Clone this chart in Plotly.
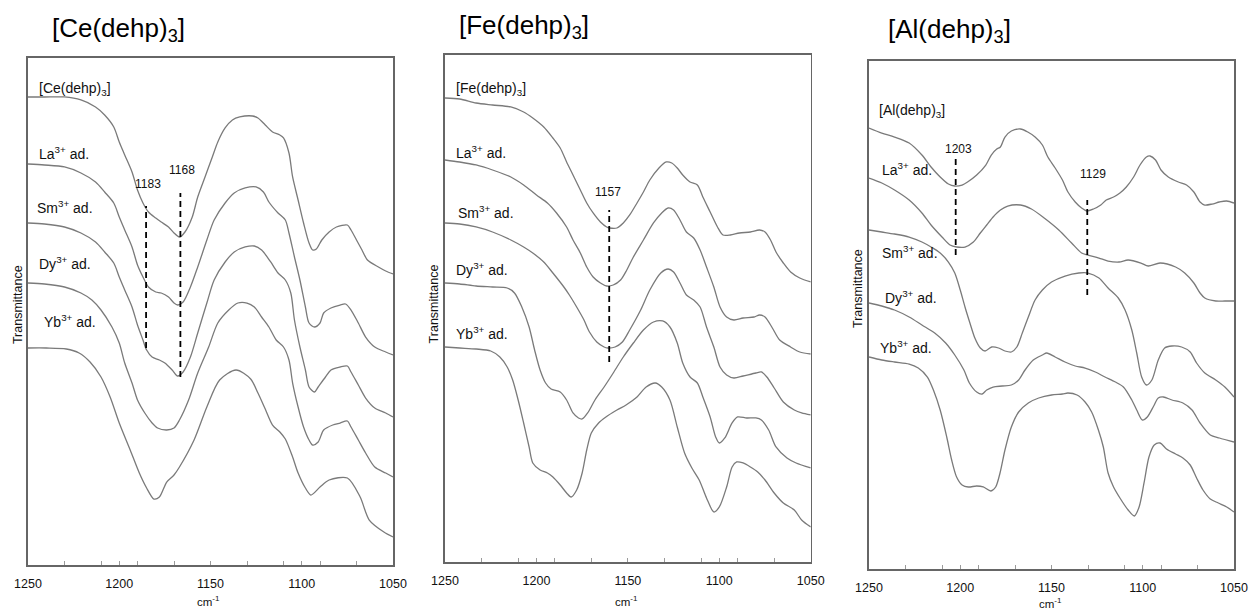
import plotly.graph_objects as go

# ---------------- data: wavenumber (cm-1) and transmittance (arbitrary, offset) ----------------
# Panel 1: [Ce(dehp)3]
ce_ref_wn = [1250,1241,1230,1221,1213,1208,1203,1200,1197,1193,1190,1187,1184,1180,1177,1173,1170,1167,1164,1160,1157,1153,1149,1146,1142,1138,1134,1127,1124,1120,1116,1112,1110,1107,1105,1102,1099,1096,1094,1092,1089,1085,1081,1075,1073,1070,1067,1064,1058,1054,1050]
ce_ref_t = [468,468,468,465,458,450,438,423,410,393,375,362,353,347,343,338,332,328,333,348,368,388,408,423,437,445,448,449,447,440,433,430,427,412,388,365,342,322,315,316,325,333,338,340,335,325,315,305,298,294,291]
ce_la_wn = [1250,1241,1230,1221,1213,1208,1203,1200,1197,1193,1190,1187,1184,1180,1177,1173,1170,1168,1165,1161,1157,1152,1148,1142,1137,1131,1125,1121,1118,1113,1109,1107,1104,1101,1098,1096,1093,1090,1088,1084,1079,1076,1073,1069,1065,1060,1054,1050]
ce_la_t = [401,400,398,392,383,373,362,348,335,318,300,288,278,273,272,268,262,260,263,278,298,325,345,362,372,377,378,373,363,352,345,332,308,285,258,242,238,242,252,257,260,261,255,242,228,218,213,210]
ce_sm_wn = [1250,1241,1230,1221,1213,1208,1203,1200,1197,1193,1190,1187,1185,1182,1178,1175,1171,1168,1165,1161,1157,1152,1148,1142,1137,1131,1126,1122,1117,1113,1109,1106,1104,1101,1098,1096,1093,1091,1087,1084,1079,1075,1073,1069,1065,1060,1054,1050]
ce_sm_t = [342,341,338,332,323,313,302,288,275,258,240,225,215,208,205,202,195,189,193,208,232,262,285,303,313,318,319,315,303,292,285,272,245,218,195,178,173,178,188,195,198,199,193,180,167,157,152,148]
ce_dy_wn = [1250,1241,1230,1221,1215,1210,1204,1200,1197,1193,1190,1186,1182,1179,1174,1170,1167,1162,1157,1151,1146,1140,1135,1130,1126,1122,1118,1114,1110,1107,1105,1102,1099,1096,1094,1091,1088,1083,1079,1075,1073,1069,1065,1060,1054,1050]
ce_dy_t = [282,281,278,272,265,255,238,222,202,182,165,152,142,137,135,137,145,165,192,218,242,255,262,262,258,248,238,225,218,205,182,158,138,125,120,123,135,140,142,144,138,125,112,98,92,88]
ce_yb_wn = [1250,1240,1229,1222,1216,1210,1205,1200,1194,1189,1185,1181,1178,1174,1170,1167,1159,1152,1145,1136,1128,1124,1120,1116,1112,1109,1105,1102,1098,1095,1090,1085,1075,1068,1063,1055,1050]
ce_yb_t = [217,217,216,212,203,188,168,142,115,92,77,66,68,83,90,98,125,158,185,195,186,172,156,140,133,126,108,92,77,70,78,85,87,68,45,33,28]

# Panel 2: [Fe(dehp)3]
fe_ref_wn = [1250,1242,1233,1224,1214,1207,1202,1196,1191,1187,1183.5,1180,1176,1172.5,1169,1165,1161.6,1160,1156,1152.5,1149,1145,1141.5,1138,1133,1129,1126,1123,1120,1116,1112,1109,1105,1101,1098,1094,1089,1083,1078,1075,1072,1069,1065,1061,1056,1050]
fe_ref_t = [464,463,459,457,455,450,444,435,424,414,400,387,372,359,349,340,335,334,334,339,347,359,370,382,394,400,399,394,387,380,377,365,350,335,327,327,329,330,332,330,322,310,299,290,284,280]
fe_la_wn = [1250,1242,1233,1224,1214,1207,1200,1194,1189,1183.5,1180,1176,1172.5,1169,1165,1161.6,1158,1154,1150.6,1147,1141.5,1136,1131.5,1128,1125,1121.5,1118,1114,1110.5,1107,1103,1099.6,1096,1092,1087,1081,1078,1075,1071,1067,1061,1056,1050]
fe_la_t = [402,400,397,392,385,377,367,359,349,335,322,309,295,285,279,276,277,282,292,305,322,339,349,354,352,342,330,324,312,295,275,255,245,242,244,245,247,245,234,222,215,210,208]
fe_sm_wn = [1250,1242,1233,1224,1214,1207,1202,1196,1191,1185,1182,1178,1174,1171,1167,1163,1161,1157,1153,1149,1143,1138,1132,1128,1125,1121.5,1118,1114,1110.5,1107,1103,1099.6,1096,1092,1087,1080,1077,1074,1070,1065,1059,1055,1050]
fe_sm_t = [339,338,335,330,322,315,309,300,289,275,267,255,242,230,220,215,214,215,220,232,252,272,289,293,290,279,267,262,255,235,215,195,187,184,186,189,190,185,174,160,152,149,147]
fe_dy_wn = [1250,1242,1233,1224,1216,1212,1208,1204,1201,1198,1195,1192,1187,1183.5,1180,1177,1175,1172,1168,1163,1158,1152.5,1147,1141.5,1136,1131,1127,1123,1120,1116,1112,1109,1105,1102,1100,1097,1093,1090,1085,1080,1077,1073,1069,1063,1058,1050]
fe_dy_t = [279,278,276,275,274,269,255,235,212,192,179,173,170,162,149,144,143,149,162,175,189,205,219,232,240,241,235,219,199,185,179,165,145,125,119,124,139,145,144,144,142,132,115,104,99,94]
fe_yb_wn = [1250,1242,1233,1225,1220,1216,1213,1210,1207,1204,1202,1198,1194,1191,1187,1183.5,1181,1178,1175,1172.5,1170,1166,1162,1156,1151,1145,1140,1135,1131.5,1127,1123,1119,1115,1111,1107,1103,1100,1096,1093,1090.5,1087,1083,1079,1075,1070,1065,1059,1055,1050]
fe_yb_t = [215,214,213,211,205,195,182,162,139,115,99,92,89,85,77,69,65,72,89,112,129,139,145,152,157,165,175,179,175,162,135,109,94,82,64,50,55,75,95,100,99,95,90,82,69,59,52,42,35]

# Panel 3: [Al(dehp)3]
al_ref_wn = [1250,1243,1236,1228,1221,1216,1211,1206.5,1203,1199,1196,1191,1186,1183,1180,1178,1175.5,1172,1167,1163,1159,1155,1152,1148,1144,1141,1137,1133.5,1130.7,1127,1123,1120,1116,1112.5,1109,1105,1101.5,1098,1096,1093,1090,1086,1080.5,1076,1072,1068.6,1066,1062,1058,1054,1050]
al_ref_t = [441,436,432,426,414,402,392,385,383,384,387,394,404,414,420,422,432,438,440,437,432,424,412,401,389,377,367,361,358,360,364,369,372,376,382,392,404,412,413,409,399,392,387,384,377,367,364,365,367,368,366]
al_la_wn = [1250,1243,1236,1228,1221,1216,1210,1205.6,1202,1197.4,1192.8,1189,1185.5,1182,1178,1174,1167,1161,1154,1146,1139,1133.5,1130,1124,1119,1113,1108,1101,1097,1090.5,1082,1077,1072,1068.6,1066,1060,1055,1050]
al_la_t = [391,386,379,369,356,344,332,324,322,322,327,336,344,352,359,363,364,360,351,339,326,316,314,311,308,307,309,306,303,306,302,296,286,276,271,268,268,268]
al_sm_wn = [1250,1243,1236,1228,1221,1216,1211,1206.5,1203,1200,1197.4,1194.7,1192,1189,1186.4,1182.8,1179,1175.5,1172,1169,1166,1162.7,1159,1155,1150,1142.6,1135,1130,1124,1119,1113.4,1109.7,1106,1103.3,1100.6,1098,1095,1091.5,1088,1084,1078.7,1074,1070.5,1066,1060,1055,1050]
al_sm_t = [339,337,335,332,327,322,316,307,296,279,262,246,231,221,218,222,221,218,217,222,236,252,269,279,287,293,296,296,291,281,271,259,239,216,192,184,189,209,221,223,222,217,206,196,189,182,172]
al_dy_wn = [1250,1243,1236,1228,1221,1214,1208,1203,1198,1195,1191,1188,1185.5,1182,1177,1172,1168,1164.5,1160,1155,1152.6,1148,1142.6,1137,1131.6,1126,1120.7,1115,1110.6,1106,1103.3,1100.2,1097.5,1094,1091.5,1088.7,1084,1078,1073,1068.6,1063,1058,1050]
al_dy_t = [266,263,259,252,244,236,226,214,199,186,177,175,179,182,183,184,189,199,209,214,216,212,207,203,201,197,192,187,182,169,159,149,152,163,171,172,169,166,159,146,134,131,127]
al_yb_wn = [1250,1243,1236,1228,1223,1218,1214.7,1211,1207.4,1204.7,1202,1199,1195.6,1191,1187.4,1183.2,1180.6,1178.2,1175.5,1172,1168,1162.7,1157,1150,1144,1141,1136,1131.6,1128,1124.3,1121.6,1119,1116,1112.5,1108,1104.6,1102,1099.3,1096.6,1093.7,1090.5,1087,1082,1078,1074,1070.5,1067,1063,1058.6,1054,1050]
al_yb_t = [212,209,207,205,201,192,179,159,132,109,92,84,82,83,82,78,82,96,119,142,157,166,171,174,175,176,174,167,157,139,122,96,82,71,59,53,62,86,112,124,126,120,115,111,104,91,79,70,66,62,57]

# curve labels
series_names = ["La<sup>3+</sup> ad.", "Sm<sup>3+</sup> ad.", "Dy<sup>3+</sup> ad.", "Yb<sup>3+</sup> ad."]
panel_titles = ["[Ce(dehp)<sub>3</sub>]", "[Fe(dehp)<sub>3</sub>]", "[Al(dehp)<sub>3</sub>]"]
ce_lbl_x = [1245.1, 1245.1, 1246.2, 1245.1, 1242.5]
ce_lbl_y = [476, 412, 358, 302, 244]
fe_lbl_x = [1245.1, 1245.1, 1244.0, 1245.1, 1245.1]
fe_lbl_y = [473, 410, 350, 293, 229]
al_lbl_x = [1245.8, 1244.0, 1244.0, 1242.2, 1244.9]
al_lbl_y = [458, 400, 317, 272, 222]

# dashed peak markers
ce_mark_wn = [1185.3, 1166.5]
ce_mark_top = [359, 372]
ce_mark_bot = [217, 188]
ce_mark_txt = ["1183", "1168"]
ce_mark_lx = [1184.1, 1165.8]
ce_mark_ly = [381, 395]
fe_mark_wn = [1160.2]
fe_mark_top = [352]
fe_mark_bot = [200]
fe_mark_txt = ["1157"]
fe_mark_lx = [1160.7]
fe_mark_ly = [370]
al_mark_wn = [1202.5, 1130.4]
al_mark_top = [410, 369]
al_mark_bot = [314, 274]
al_mark_txt = ["1203", "1129"]
al_mark_lx = [1200.7, 1127.4]
al_mark_ly = [420, 395]

x_ticks = [1250, 1200, 1150, 1100, 1050]
x_minor = [1230, 1210, 1190, 1170, 1150, 1130, 1110, 1090, 1070]

# ---------------- figure ----------------
FONT = "Liberation Sans, Arial, sans-serif"
CURVE = "#7a7a7a"
FRAME = "#666666"

panels = [
    dict(ax="x", ay="y", curves=[(ce_ref_wn, ce_ref_t), (ce_la_wn, ce_la_t), (ce_sm_wn, ce_sm_t), (ce_dy_wn, ce_dy_t), (ce_yb_wn, ce_yb_t)],
         lx=ce_lbl_x, ly=ce_lbl_y, mw=ce_mark_wn, mt=ce_mark_top, mb=ce_mark_bot, mtxt=ce_mark_txt, mlx=ce_mark_lx, mly=ce_mark_ly,
         xdom=[0.0224, 0.3144], ydom=[0.0722, 0.9048], yr=[0, 507],
         title_xy=(0.040, 0.952), trans_xy=(0.0144, 0.499), cm_xy=(0.1668, 0.0125)),
    dict(ax="x2", ay="y2", curves=[(fe_ref_wn, fe_ref_t), (fe_la_wn, fe_la_t), (fe_sm_wn, fe_sm_t), (fe_dy_wn, fe_dy_t), (fe_yb_wn, fe_yb_t)],
         lx=fe_lbl_x, ly=fe_lbl_y, mw=fe_mark_wn, mt=fe_mark_top, mb=fe_mark_bot, mtxt=fe_mark_txt, mlx=fe_mark_lx, mly=fe_mark_ly,
         xdom=[0.356, 0.6486], ydom=[0.0772, 0.9097], yr=[0, 507],
         title_xy=(0.3656, 0.956), trans_xy=(0.3468, 0.501), cm_xy=(0.5013, 0.0125)),
    dict(ax="x3", ay="y3", curves=[(al_ref_wn, al_ref_t), (al_la_wn, al_la_t), (al_sm_wn, al_sm_t), (al_dy_wn, al_dy_t), (al_yb_wn, al_yb_t)],
         lx=al_lbl_x, ly=al_lbl_y, mw=al_mark_wn, mt=al_mark_top, mb=al_mark_bot, mtxt=al_mark_txt, mlx=al_mark_lx, mly=al_mark_ly,
         xdom=[0.6952, 0.9872], ydom=[0.0657, 0.8998], yr=[0, 508],
         title_xy=(0.7088, 0.950), trans_xy=(0.6864, 0.5255), cm_xy=(0.840, 0.0100)),
]

fig = go.Figure()
annotations = []
layout_axes = {}

for i, p in enumerate(panels):
    for wn, t in p["curves"]:
        fig.add_trace(go.Scatter(x=wn, y=t, xaxis=p["ax"], yaxis=p["ay"], mode="lines",
                                 line=dict(color=CURVE, width=1.3, shape="spline", smoothing=0.8),
                                 hoverinfo="skip", showlegend=False))
    for w, top, bot in zip(p["mw"], p["mt"], p["mb"]):
        fig.add_trace(go.Scatter(x=[w, w], y=[bot, top], xaxis=p["ax"], yaxis=p["ay"], mode="lines",
                                 line=dict(color="black", width=1.8, dash="6px,4px"),
                                 hoverinfo="skip", showlegend=False))
    labels = [panel_titles[i]] + series_names
    for txt, x, y in zip(labels, p["lx"], p["ly"]):
        annotations.append(dict(text=txt, x=x, y=y, xref=p["ax"], yref=p["ay"], xanchor="left", yanchor="middle",
                                showarrow=False, font=dict(family=FONT, size=14, color="#111")))
    for txt, x, y in zip(p["mtxt"], p["mlx"], p["mly"]):
        annotations.append(dict(text=txt, x=x, y=y, xref=p["ax"], yref=p["ay"], xanchor="center", yanchor="middle",
                                showarrow=False, font=dict(family=FONT, size=12, color="#111")))
    tx, ty = p["title_xy"]
    annotations.append(dict(text=panel_titles[i], x=tx, y=ty, xref="paper", yref="paper", xanchor="left", yanchor="middle",
                            showarrow=False, font=dict(family=FONT, size=26, color="#000")))
    trx, tr_y = p["trans_xy"]
    annotations.append(dict(text="Transmittance", x=trx, y=tr_y, xref="paper", yref="paper", textangle=-90,
                            xanchor="center", yanchor="middle", showarrow=False, font=dict(family=FONT, size=12.5, color="#111")))
    cx, cy = p["cm_xy"]
    annotations.append(dict(text="cm<sup>-1</sup>", x=cx, y=cy, xref="paper", yref="paper", xanchor="center", yanchor="middle",
                            showarrow=False, font=dict(family=FONT, size=11.5, color="#111")))

    xname = "xaxis" if i == 0 else f"xaxis{i+1}"
    yname = "yaxis" if i == 0 else f"yaxis{i+1}"
    layout_axes[xname] = dict(domain=p["xdom"], anchor=p["ay"], range=[1250, 1050], tickmode="array", tickvals=x_ticks,
                              ticks="inside", ticklen=4, tickcolor="#9a9a9a", tickwidth=1,
                              minor=dict(tickmode="array", tickvals=x_minor, ticks="inside", ticklen=4, tickcolor="#9a9a9a", showgrid=False),
                              showline=True, mirror=True, linecolor=FRAME, linewidth=1.6, automargin=False,
                              showgrid=False, zeroline=False, ticklabelstandoff=6,
                              tickfont=dict(family=FONT, size=12.5, color="#111"))
    layout_axes[yname] = dict(domain=p["ydom"], anchor=p["ax"], range=p["yr"], showticklabels=False, ticks="",
                              showline=True, mirror=True, linecolor=FRAME, linewidth=1.6, automargin=False,
                              showgrid=False, zeroline=False)

fig.update_layout(width=1250, height=609, margin=dict(l=0, r=0, t=0, b=0, pad=0, autoexpand=False),
                  paper_bgcolor="white", plot_bgcolor="white", annotations=annotations, **layout_axes)

fig.write_html("out.html", config={"displayModeBar": False, "staticPlot": True},
               post_script="document.body.style.margin='0';document.body.style.overflow='hidden';")
